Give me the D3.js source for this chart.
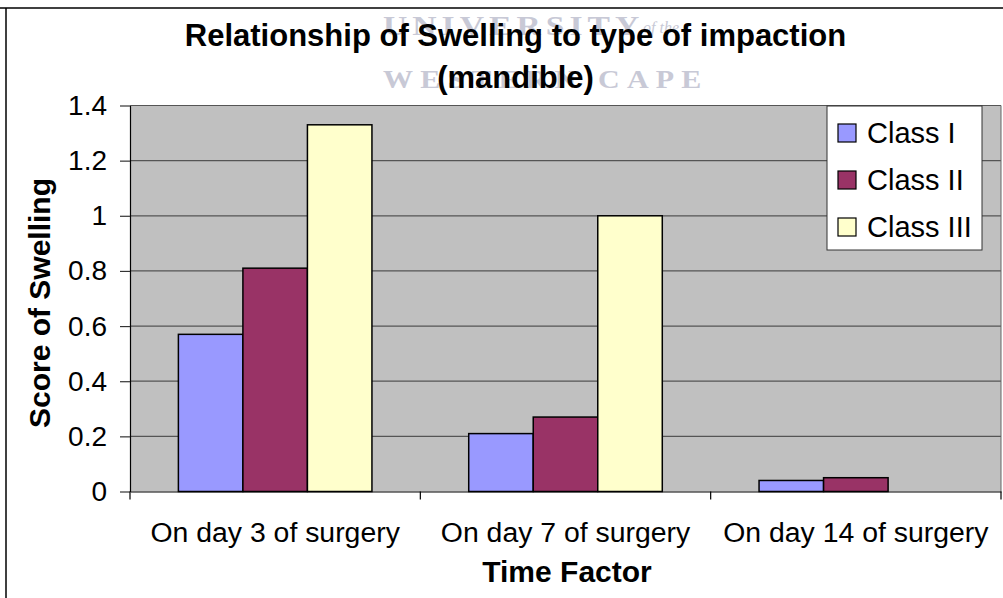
<!DOCTYPE html>
<html>
<head>
<meta charset="utf-8">
<script src="https://cdn.jsdelivr.net/npm/d3@7"></script>
<style>
  html, body { margin: 0; padding: 0; background: #ffffff; }
  svg { display: block; }
</style>
</head>
<body>
<script>
// ---- data ----
const categories = ["On day 3 of surgery", "On day 7 of surgery", "On day 14 of surgery"];
const seriesNames = ["Class I", "Class II", "Class III"];
const classI   = [0.57, 0.21, 0.04];
const classII  = [0.81, 0.27, 0.05];
const classIII = [1.33, 1.00, 0.00];
const yTicks = [0, 0.2, 0.4, 0.6, 0.8, 1, 1.2, 1.4];
const yTickLabels = ["0", "0.2", "0.4", "0.6", "0.8", "1", "1.2", "1.4"];
const colors = ["#9999FF", "#993366", "#FFFFCC"];
const titleLines = ["Relationship of Swelling to type of impaction", "(mandible)"];
const xTitle = "Time Factor";
const yTitle = "Score of Swelling";

const seriesValues = [classI, classII, classIII];

const W = 1003, H = 598;
const plot = { left: 130, right: 1001, top: 105.5, bottom: 491.5 };
const SANS = "'Liberation Sans', Arial, sans-serif";
const SERIF = "'Liberation Serif', 'DejaVu Serif', serif";

const svg = d3.select("body").append("svg").attr("width", W).attr("height", H)
  .style("font-family", SANS);

// outer frame
svg.append("line").attr("x1", 0).attr("x2", W).attr("y1", 8).attr("y2", 8)
  .attr("stroke", "#000").attr("stroke-width", 1.5);
svg.append("line").attr("x1", 6).attr("x2", 6).attr("y1", 8).attr("y2", H)
  .attr("stroke", "#000").attr("stroke-width", 1.5);

// watermark
const wm = svg.append("g").attr("fill", "#c8c9d6");
wm.append("text").attr("transform", "translate(383,35) scale(1.2,1)").attr("font-size", 28)
  .attr("font-weight", "bold").style("font-family", SERIF).attr("letter-spacing", 4.2).text("UNIVERSITY");
wm.append("text").attr("x", 643).attr("y", 33).attr("font-size", 16)
  .style("font-family", SERIF).attr("font-style", "italic").text("of the");
wm.append("text").attr("transform", "translate(383,88) scale(1.2,1)").attr("font-size", 25)
  .attr("font-weight", "bold").style("font-family", SERIF).attr("letter-spacing", 6).text("WESTERN CAPE");

// scales
const x0 = d3.scaleBand().domain(categories).range([plot.left, plot.right]).paddingInner(0).paddingOuter(0);
const x1 = d3.scaleBand().domain(seriesNames).range([0, x0.bandwidth()]).paddingInner(0).paddingOuter(0.75);
const y = d3.scaleLinear().domain([0, 1.4]).range([plot.bottom, plot.top]);

// plot background
svg.append("rect").attr("x", plot.left).attr("y", plot.top)
  .attr("width", plot.right - plot.left).attr("height", plot.bottom - plot.top)
  .attr("fill", "#C0C0C0");

// gridlines
svg.append("g").selectAll("line").data(yTicks.filter(d => d > 0)).join("line")
  .attr("x1", plot.left).attr("x2", plot.right)
  .attr("y1", d => y(d)).attr("y2", d => y(d))
  .attr("stroke", "#555555").attr("stroke-width", 1.2);

// right border of plot
svg.append("line").attr("x1", plot.right).attr("x2", plot.right)
  .attr("y1", plot.top).attr("y2", plot.bottom)
  .attr("stroke", "#666").attr("stroke-width", 1);

// bars
const gBars = svg.append("g");
categories.forEach((c, ci) => {
  seriesNames.forEach((s, si) => {
    const v = seriesValues[si][ci];
    if (v <= 0) return;
    gBars.append("rect")
      .attr("x", x0(c) + x1(s))
      .attr("y", y(v))
      .attr("width", x1.bandwidth())
      .attr("height", y(0) - y(v))
      .attr("fill", colors[si])
      .attr("stroke", "#000").attr("stroke-width", 1.5);
  });
});

// y axis
const yAxis = d3.axisLeft(y).tickValues(yTicks)
  .tickFormat((d, i) => yTickLabels[i]).tickSize(10).tickSizeOuter(0).tickPadding(13);
const gy = svg.append("g").attr("transform", `translate(${plot.left},0)`).call(yAxis);
gy.select(".domain").attr("stroke", "#000").attr("stroke-width", 1.2);
gy.selectAll(".tick line").attr("stroke", "#333").attr("stroke-width", 1.2);
gy.selectAll(".tick text").attr("font-size", 28).attr("fill", "#000")
  .style("font-family", SANS);

// x axis
const xAxis = d3.axisBottom(x0).tickSize(0).tickPadding(30).tickSizeOuter(0);
const gx = svg.append("g").attr("transform", `translate(0,${plot.bottom})`).call(xAxis);
gx.select(".domain").attr("stroke", "#000").attr("stroke-width", 1.2);
gx.selectAll(".tick text").attr("font-size", 28.4).attr("fill", "#000")
  .style("font-family", SANS);
// category boundary ticks
const bounds = categories.map(c => x0(c)).concat([x0(categories[categories.length - 1]) + x0.bandwidth()]);
svg.append("g").selectAll("line").data(bounds).join("line")
  .attr("x1", d => d).attr("x2", d => d)
  .attr("y1", plot.bottom).attr("y2", plot.bottom + 8)
  .attr("stroke", "#000").attr("stroke-width", 1.2);

// titles
svg.append("text").attr("x", 515.5).attr("y", 46).attr("text-anchor", "middle")
  .attr("font-size", 31).attr("font-weight", "bold").text(titleLines[0]);
svg.append("text").attr("x", 515.5).attr("y", 88).attr("text-anchor", "middle")
  .attr("font-size", 31).attr("font-weight", "bold").text(titleLines[1]);
svg.append("text").attr("x", 567).attr("y", 582).attr("text-anchor", "middle")
  .attr("font-size", 30).attr("font-weight", "bold").text(xTitle);
svg.append("text").attr("transform", "translate(50,303) rotate(-90)").attr("text-anchor", "middle")
  .attr("font-size", 30).attr("font-weight", "bold").text(yTitle);

// legend
const lg = svg.append("g");
lg.append("rect").attr("x", 827).attr("y", 106).attr("width", 155).attr("height", 144)
  .attr("fill", "#fff").attr("stroke", "#333").attr("stroke-width", 1);
const itemY = [133, 180, 227];
seriesNames.forEach((s, i) => {
  lg.append("rect").attr("x", 838).attr("y", itemY[i] - 9).attr("width", 18).attr("height", 18)
    .attr("fill", colors[i]).attr("stroke", "#000").attr("stroke-width", 1.2);
  lg.append("text").attr("x", 867).attr("y", itemY[i] + 10).attr("font-size", 29).text(s);
});
</script>
</body>
</html>
